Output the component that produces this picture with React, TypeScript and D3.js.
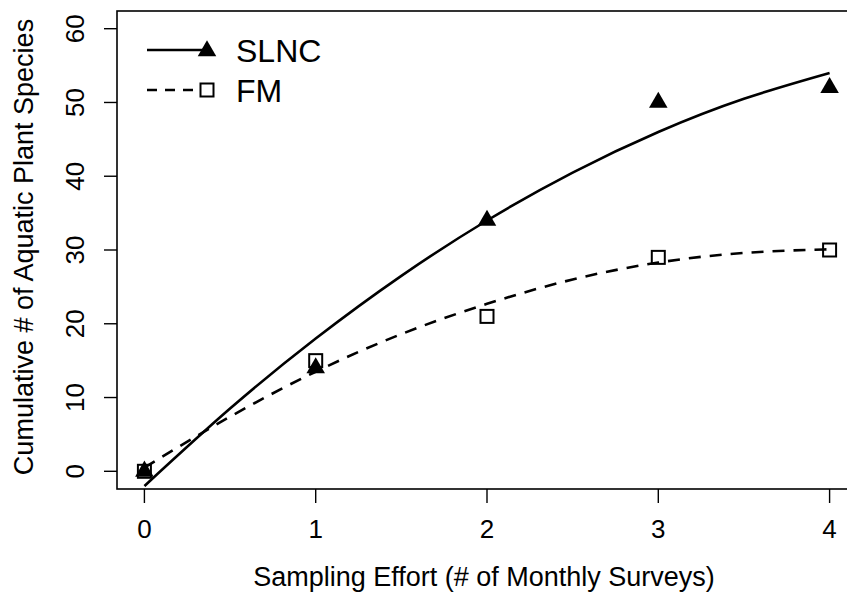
import React, { useEffect, useRef } from 'react';
import * as d3 from 'd3';

// observed values
const efforts = [0, 1, 2, 3, 4];
const slncObserved = [0, 14, 34, 50, 52];
const fmObserved = [0, 15, 21, 29, 30];

// fitted curves at half-survey steps
const curveX = [0, 0.5, 1, 1.5, 2, 2.5, 3, 3.5, 4];
const slncCurve = [-2, 8.5, 18, 26.5, 34, 40.5, 46, 50.5, 54];
const fmCurve = [0.5, 7.4, 13.5, 18.6, 22.7, 26.0, 28.3, 29.6, 30.1];

const xTicks = [0, 1, 2, 3, 4];
const yTicks = [0, 10, 20, 30, 40, 50, 60];

const FONT = "'Liberation Sans', Arial, Helvetica, sans-serif";

const App = () => {
  const svgRef = useRef<SVGSVGElement>(null);

  useEffect(() => {
    const svg = d3.select(svgRef.current);
    svg.selectAll('*').remove();

    const width = 847;
    const height = 593;
    const box = { left: 117, right: 857, top: 11, bottom: 489 };

    const x = d3.scaleLinear().domain([-0.16, 4.16]).range([box.left, box.right]);
    const y = d3.scaleLinear().domain([-2.4, 62.4]).range([box.bottom, box.top]);

    svg.attr('width', width).attr('height', height);

    svg.append('rect')
      .attr('width', width).attr('height', height).attr('fill', '#fff');

    // plot box (right side runs off the page)
    svg.append('rect')
      .attr('x', box.left).attr('y', box.top)
      .attr('width', box.right - box.left).attr('height', box.bottom - box.top)
      .attr('fill', 'none').attr('stroke', '#000').attr('stroke-width', 1.6);

    // x axis ticks + labels
    const xa = svg.append('g');
    xa.selectAll('line').data(xTicks).enter().append('line')
      .attr('x1', d => x(d)).attr('x2', d => x(d))
      .attr('y1', box.bottom).attr('y2', box.bottom + 14)
      .attr('stroke', '#000').attr('stroke-width', 1.4);
    xa.selectAll('text').data(xTicks).enter().append('text')
      .attr('x', d => x(d)).attr('y', 538)
      .attr('text-anchor', 'middle')
      .attr('font-family', FONT).attr('font-size', 26)
      .text(d => d);

    // y axis ticks + labels (rotated like R)
    const ya = svg.append('g');
    ya.selectAll('line').data(yTicks).enter().append('line')
      .attr('x1', box.left).attr('x2', box.left - 13)
      .attr('y1', d => y(d)).attr('y2', d => y(d))
      .attr('stroke', '#000').attr('stroke-width', 1.4);
    ya.selectAll('text').data(yTicks).enter().append('text')
      .attr('transform', d => `translate(84,${y(d)}) rotate(-90)`)
      .attr('text-anchor', 'middle')
      .attr('font-family', FONT).attr('font-size', 26)
      .text(d => d);

    // axis titles
    svg.append('text')
      .attr('x', 484).attr('y', 586)
      .attr('text-anchor', 'middle')
      .attr('font-family', FONT).attr('font-size', 27)
      .text('Sampling Effort (# of Monthly Surveys)');

    svg.append('text')
      .attr('transform', `translate(33,${(box.top + box.bottom) / 2 - 3}) rotate(-90)`)
      .attr('text-anchor', 'middle')
      .attr('font-family', FONT).attr('font-size', 27)
      .text('Cumulative # of Aquatic Plant Species');

    // fitted curves
    const line = d3.line<number>()
      .x((d, i) => x(curveX[i]))
      .y(d => y(d))
      .curve(d3.curveNatural);

    svg.append('path')
      .datum(slncCurve)
      .attr('d', line)
      .attr('fill', 'none').attr('stroke', '#000').attr('stroke-width', 2.6);

    svg.append('path')
      .datum(fmCurve)
      .attr('d', line)
      .attr('fill', 'none').attr('stroke', '#000').attr('stroke-width', 2.6)
      .attr('stroke-dasharray', '12,9');

    // markers
    const r = 10.7;
    const tri = (cx: number, cy: number) =>
      `M${cx},${cy - r}L${cx + 0.866 * r},${cy + r / 2}L${cx - 0.866 * r},${cy + r / 2}Z`;
    const sq = 13;

    svg.append('g').selectAll('rect').data(fmObserved).enter().append('rect')
      .attr('x', (d, i) => x(efforts[i]) - sq / 2)
      .attr('y', d => y(d) - sq / 2)
      .attr('width', sq).attr('height', sq)
      .attr('fill', 'none').attr('stroke', '#000').attr('stroke-width', 2);

    svg.append('g').selectAll('path').data(slncObserved).enter().append('path')
      .attr('d', (d, i) => tri(x(efforts[i]), y(d)))
      .attr('fill', '#000');

    // legend
    const lg = svg.append('g');
    lg.append('line')
      .attr('x1', 147).attr('x2', 207).attr('y1', 50).attr('y2', 50)
      .attr('stroke', '#000').attr('stroke-width', 2.6);
    lg.append('path').attr('d', tri(207, 51)).attr('fill', '#000');
    lg.append('text')
      .attr('x', 236).attr('y', 62)
      .attr('font-family', FONT).attr('font-size', 32)
      .text('SLNC');

    lg.append('line')
      .attr('x1', 147).attr('x2', 207).attr('y1', 90).attr('y2', 90)
      .attr('stroke', '#000').attr('stroke-width', 2.6)
      .attr('stroke-dasharray', '10,8');
    lg.append('rect')
      .attr('x', 207 - sq / 2).attr('y', 90 - sq / 2)
      .attr('width', sq).attr('height', sq)
      .attr('fill', '#fff').attr('stroke', '#000').attr('stroke-width', 2);
    lg.append('text')
      .attr('x', 236).attr('y', 102)
      .attr('font-family', FONT).attr('font-size', 32)
      .text('FM');
  }, []);

  return (
    <div style={{ position: 'absolute', left: 0, top: 0, width: 847, height: 593, overflow: 'hidden' }}>
      <svg ref={svgRef} style={{ display: 'block' }}></svg>
    </div>
  );
};

export default App;
